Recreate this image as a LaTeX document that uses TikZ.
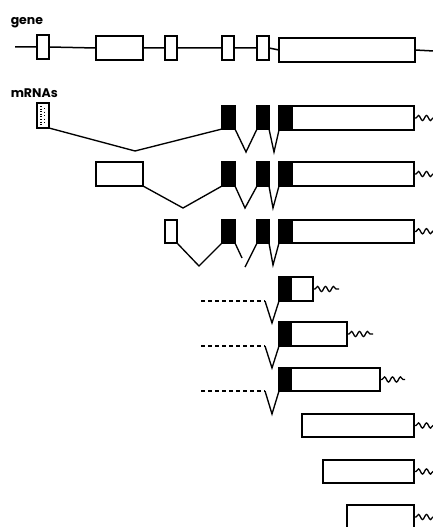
\documentclass[tikz,border=0pt]{standalone}
\usepackage{fontspec}
\setmainfont{Poppins}
\usetikzlibrary{decorations.pathmorphing}

% box with its top-left corner at (x,y): style, name, x, y, width, height
\newcommand\ex[6]{\node[#1, minimum width=#5pt, minimum height=#6pt] (#2) at (#3,#4) {};}

\begin{document}
\begin{tikzpicture}[x=1pt, y=-1pt, line width=1.5pt,
  exon/.style={draw, fill=white, inner sep=0pt, outer sep=0pt, anchor=north west},
  coding/.style={draw, fill=black, inner sep=0pt, outer sep=0pt, anchor=north west},
  intron/.style={line width=1.35pt},
  polyA/.style={line width=1.3pt, decorate,
    decoration={snake, amplitude=2.6pt, segment length=8pt, pre length=2pt, post length=0pt}},
  upstream/.style={line width=1.3pt, dash pattern=on 4pt off 3pt},
  headtext/.style={font=\bfseries\fontsize{12.5}{14}\selectfont, anchor=base west, inner sep=0pt}]

\useasboundingbox (0,0) rectangle (432,527);

% ---------- labels ----------
\node[headtext] (genelbl) at (10,25) {gene};
\node[headtext] (mrnalbl) at (10,97) {mRNAs};

% ---------- gene ----------
\coordinate (gL) at (15,47);
\coordinate (gR) at (434,51);
\ex{exon}{g1}{37}{35}{12}{24}
\ex{exon}{g2}{96}{36}{47}{24}
\ex{exon}{g3}{165}{36}{12}{24}
\ex{exon}{g4}{222}{36}{12}{24}
\ex{exon}{g5}{257}{36}{12}{24}
\ex{exon}{g6}{279}{38}{136}{24}
\draw (gL) -- (g1.west) (g1.east) -- (g2.west) (g2.east) -- (g3.west)
      (g3.east) -- (g4.west) (g4.east) -- (g5.west) (g5.east) -- (g6.west)
      (g6.east) -- (gR);

% ---------- mRNA 1 ----------
\ex{exon}{a0}{37}{103}{12}{25}
\draw[line width=1.5pt, dash pattern=on 1pt off 1.6pt] (40.8,106) -- (40.8,125);
\draw[line width=0.8pt, dash pattern=on 1pt off 2.5pt] (44,108) -- (44,124);
\ex{exon}{a4}{292}{106}{122}{24}
\ex{coding}{a1}{222}{106}{13}{23}
\ex{coding}{a2}{257}{106}{12}{23}
\ex{coding}{a3}{279}{106}{13}{24}
\coordinate (av0) at (135,151);
\coordinate (av1) at (246,152);
\coordinate (av2) at (274,152);
\draw[intron] (a0.south east) -- (av0) -- (a1.south west);
\draw[intron] (a1.south east) -- (av1) -- (a2.south west);
\draw[intron] (a2.south east) -- (av2) -- (a3.south west);
\coordinate (aend) at (434,118);
\draw[polyA] (a4.east) -- (aend);

% ---------- mRNA 2 ----------
\ex{exon}{b0}{96}{162}{47}{24}
\ex{exon}{b4}{292}{162}{122}{24}
\ex{coding}{b1}{222}{162}{13}{24}
\ex{coding}{b2}{257}{162}{12}{24}
\ex{coding}{b3}{279}{162}{13}{24}
\coordinate (bv0) at (183,208);
\coordinate (bv1) at (245,208);
\coordinate (bv2) at (273,208);
\draw[intron] (b0.south east) -- (bv0) -- (b1.south west);
\draw[intron] (b1.south east) -- (bv1) -- (b2.south west);
\draw[intron] (b2.south east) -- (bv2) -- (b3.south west);
\coordinate (bend) at (434,174);
\draw[polyA] (b4.east) -- (bend);

% ---------- mRNA 3 ----------
\ex{exon}{c0}{165}{220}{12}{23}
\ex{exon}{c4}{292}{220}{122}{23}
\ex{coding}{c1}{222}{220}{13}{23}
\ex{coding}{c2}{257}{220}{12}{23}
\ex{coding}{c3}{279}{220}{13}{23}
\coordinate (cv0) at (199,266);
\coordinate (cv1a) at (242,258);
\coordinate (cv1b) at (245,267);
\coordinate (cv2) at (273,265);
\draw[intron] (c0.south east) -- (cv0) -- (c1.south west);
\draw[intron] (c1.south east) -- (cv1a);
\draw[intron] (cv1b) -- (c2.south west);
\draw[intron] (c2.south east) -- (cv2) -- (c3.south west);
\coordinate (cend) at (434,231);
\draw[polyA] (c4.east) -- (cend);

% ---------- short transcripts with upstream start ----------
\ex{exon}{d2}{291}{277}{22}{24}
\ex{coding}{d1}{279}{277}{12}{24}
\coordinate (dd0) at (201,301);
\coordinate (dd1) at (265,301);
\coordinate (dv) at (272,323);
\draw[upstream] (dd0) -- (dd1);
\draw[intron] (dd1) -- (dv) -- (d1.south west);
\coordinate (dend) at (339,289);
\draw[polyA] (d2.east) -- (dend);

\ex{exon}{e2}{291}{322}{56}{24}
\ex{coding}{e1}{279}{322}{12}{24}
\coordinate (ed0) at (201,346);
\coordinate (ed1) at (265,346);
\coordinate (ev) at (272,368);
\draw[upstream] (ed0) -- (ed1);
\draw[intron] (ed1) -- (ev) -- (e1.south west);
\coordinate (eend) at (373,334);
\draw[polyA] (e2.east) -- (eend);

\ex{exon}{f2}{291}{368}{89}{23}
\ex{coding}{f1}{279}{368}{12}{23}
\coordinate (fd0) at (201,391);
\coordinate (fd1) at (265,391);
\coordinate (fv) at (272,414);
\draw[upstream] (fd0) -- (fd1);
\draw[intron] (fd1) -- (fv) -- (f1.south west);
\coordinate (fend) at (405,379.5);
\draw[polyA] (f2.east) -- (fend);

% ---------- non-coding 3' transcripts ----------
\ex{exon}{h1}{302}{414}{112}{23}
\coordinate (h1end) at (434,425.5);
\draw[polyA] (h1.east) -- (h1end);

\ex{exon}{h2}{323}{460}{91}{23}
\coordinate (h2end) at (434,471.5);
\draw[polyA] (h2.east) -- (h2end);

\ex{exon}{h3}{347}{505}{67}{24}
\coordinate (h3end) at (434,517);
\draw[polyA] (h3.east) -- (h3end);

\end{tikzpicture}
\end{document}
